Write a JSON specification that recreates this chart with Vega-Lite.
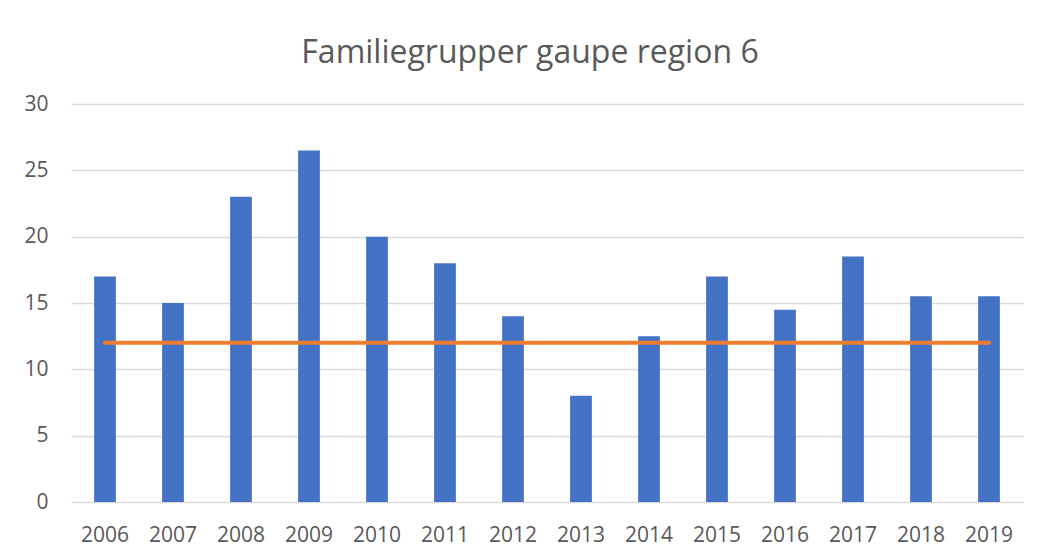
{
  "$schema": "https://vega.github.io/schema/vega-lite/v6.json",
  "width": 952,
  "height": 398,
  "autosize": {"type": "none"},
  "padding": {"left": 71, "top": 104, "right": 16, "bottom": 57},
  "background": "white",
  "title": {
    "text": "Familiegrupper gaupe region 6",
    "anchor": "middle",
    "frame": "group",
    "dx": -17,
    "offset": 23,
    "font": "Open Sans",
    "fontSize": 32,
    "fontWeight": "normal",
    "color": "#595959"
  },
  "data": {
    "values": [
      {"year": "2006", "value": 17, "avg": 12},
      {"year": "2007", "value": 15, "avg": 12},
      {"year": "2008", "value": 23, "avg": 12},
      {"year": "2009", "value": 26.5, "avg": 12},
      {"year": "2010", "value": 20, "avg": 12},
      {"year": "2011", "value": 18, "avg": 12},
      {"year": "2012", "value": 14, "avg": 12},
      {"year": "2013", "value": 8, "avg": 12},
      {"year": "2014", "value": 12.5, "avg": 12},
      {"year": "2015", "value": 17, "avg": 12},
      {"year": "2016", "value": 14.5, "avg": 12},
      {"year": "2017", "value": 18.5, "avg": 12},
      {"year": "2018", "value": 15.5, "avg": 12},
      {"year": "2019", "value": 15.5, "avg": 12}
    ]
  },
  "encoding": {
    "x": {
      "field": "year",
      "type": "ordinal",
      "scale": {"paddingInner": 0.68, "paddingOuter": 0.34},
      "axis": {
        "title": null,
        "labelAngle": 0,
        "ticks": false,
        "domain": false,
        "labelPadding": 22,
        "labelFont": "Open Sans",
        "labelFontSize": 21,
        "labelColor": "#595959"
      }
    }
  },
  "layer": [
    {
      "mark": {"type": "bar", "color": "#4472C4"},
      "encoding": {
        "y": {
          "field": "value",
          "type": "quantitative",
          "scale": {"domain": [0, 30]},
          "axis": {
            "title": null,
            "values": [0, 5, 10, 15, 20, 25, 30],
            "ticks": false,
            "domain": false,
            "labelPadding": 23,
            "labelFont": "Open Sans",
            "labelFontSize": 21,
            "labelColor": "#595959",
            "gridColor": "#D9D9D9",
            "gridWidth": 1.5
          }
        }
      }
    },
    {
      "mark": {"type": "line", "color": "#ED7D31", "strokeWidth": 4, "strokeCap": "round"},
      "encoding": {
        "y": {"field": "avg", "type": "quantitative"}
      }
    }
  ],
  "config": {"view": {"stroke": null}}
}
